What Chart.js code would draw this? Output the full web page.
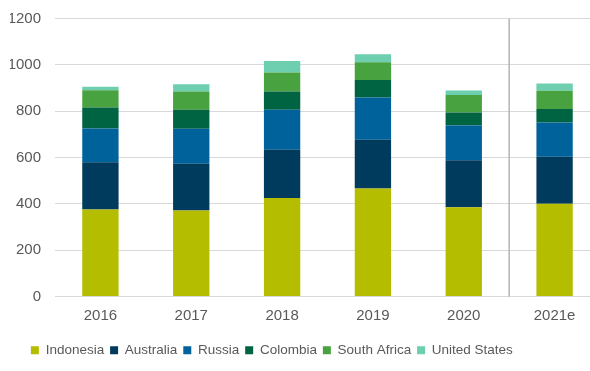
<!DOCTYPE html>
<html>
<head>
<meta charset="utf-8">
<script src="https://cdn.jsdelivr.net/npm/chart.js@4/dist/chart.umd.min.js"></script>
<style>
  html, body { margin: 0; padding: 0; background: #ffffff; overflow: hidden; }
  #wrap { width: 600px; height: 371px; position: relative; }
</style>
</head>
<body>
<div id="wrap"><canvas id="c" width="600" height="371"></canvas></div>
<script>
const categories = ['2016', '2017', '2018', '2019', '2020', '2021e'];
const indonesia   = [376, 372, 425, 466, 386, 401];
const australia   = [204, 201, 209, 211, 202, 202];
const russia      = [145, 151, 172, 182, 150, 148];
const colombia    = [91, 82, 79, 76, 56, 58];
const southAfrica = [74, 79, 82, 76, 76, 79];
const unitedStates = [15, 31, 50, 35, 19, 31];
const yTicks = [0, 200, 400, 600, 800, 1000, 1200];

const seriesNames  = ['Indonesia', 'Australia', 'Russia', 'Colombia', 'South Africa', 'United States'];
const seriesData   = [indonesia, australia, russia, colombia, southAfrica, unitedStates];
const seriesColors = ['#B5BD00', '#003A5D', '#00629B', '#006341', '#48A23F', '#6DCFB0'];

const separatorPlugin = {
  id: 'separator',
  afterDatasetsDraw(chart) {
    const x = chart.scales.x;
    const area = chart.chartArea;
    const px = (x.getPixelForValue(4) + x.getPixelForValue(5)) / 2;
    const ctx = chart.ctx;
    ctx.save();
    ctx.strokeStyle = '#b4b4b4';
    ctx.lineWidth = 1.5;
    ctx.beginPath();
    ctx.moveTo(px, area.top);
    ctx.lineTo(px, area.bottom);
    ctx.stroke();
    ctx.restore();
  }
};

const legendShift = {
  id: 'legendShift',
  afterLayout(chart) {
    const lg = chart.legend;
    if (lg) {
      const w = lg.right - lg.left;
      lg.left = 25;
      lg.right = lg.left + w;
    }
  }
};

new Chart(document.getElementById('c'), {
  type: 'bar',
  data: {
    labels: categories,
    datasets: seriesNames.map((n, i) => ({
      label: n,
      data: seriesData[i],
      backgroundColor: seriesColors[i],
      borderWidth: 0,
      barPercentage: 0.4,
      categoryPercentage: 1.0
    }))
  },
  options: {
    responsive: false,
    animation: false,
    devicePixelRatio: 1,
    layout: { padding: { top: 18.5, left: 10, right: 0, bottom: 4 } },
    scales: {
      x: {
        stacked: true,
        grid: { display: false, drawTicks: false },
        border: { display: true, color: '#d9d9d9', width: 1 },
        ticks: { color: '#595959', font: { family: 'Liberation Sans, Arial, sans-serif', size: 15 }, padding: 10, maxRotation: 0 },
        afterFit(scale) { scale.height = 41; scale.paddingLeft = 0; scale.paddingRight = 0; }
      },
      y: {
        stacked: true,
        min: 0,
        max: 1200,
        afterBuildTicks(scale) { scale.ticks = yTicks.map(v => ({ value: v })); },
        grid: { color: '#d9d9d9', lineWidth: 1, drawTicks: false },
        border: { display: false },
        ticks: {
          color: '#595959',
          font: { family: 'Liberation Sans, Arial, sans-serif', size: 15 },
          padding: 14,
          callback: (v) => String(v)
        },
        afterFit(scale) { scale.width = 45; scale.paddingTop = 0; scale.paddingBottom = 0; }
      }
    },
    plugins: {
      legend: {
        position: 'bottom',
        align: 'start',
        labels: {
          boxWidth: 8,
          boxHeight: 8,
          padding: 5.9,
          color: '#595959',
          font: { family: 'Liberation Sans, Arial, sans-serif', size: 13.5 }
        }
      },
      tooltip: { enabled: false }
    }
  },
  plugins: [separatorPlugin, legendShift]
});
</script>
</body>
</html>
